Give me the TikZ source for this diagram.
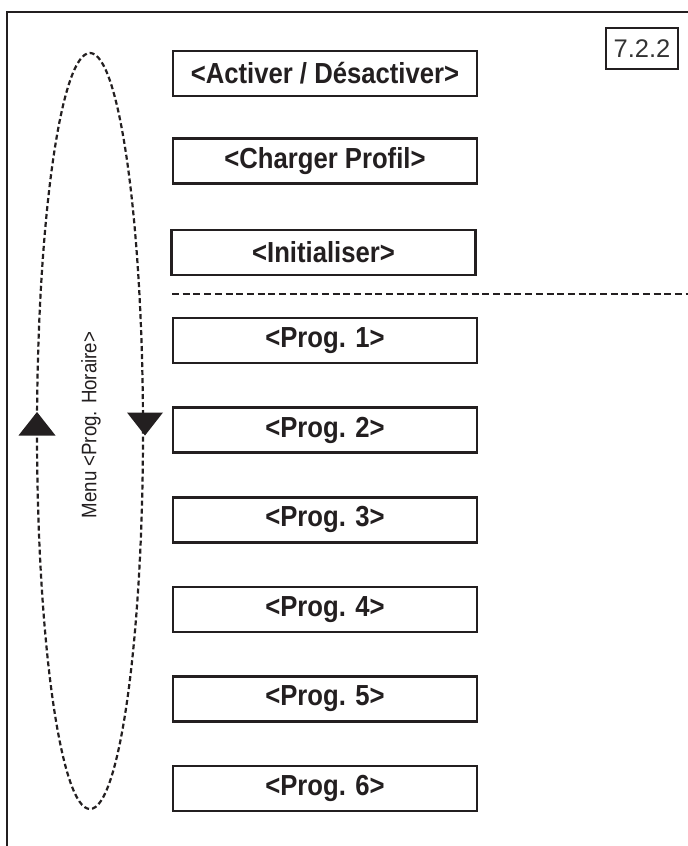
\documentclass[tikz,border=0pt]{standalone}
\usepackage{fontspec}
\usepackage{graphicx}
\setmainfont{Liberation Sans}
\definecolor{ink}{HTML}{231F20}
\newcommand{\narrowtxt}[2]{\scalebox{#1}[1]{#2}}
\begin{document}
\begin{tikzpicture}[x=1pt,y=-1pt,
  menubox/.style={draw=ink, line width=2.6pt, minimum width=304pt, minimum height=45pt, inner sep=0pt,
    text=ink, font=\fontsize{29}{32}\selectfont\bfseries},
  tagbox/.style={draw=ink, line width=2pt, minimum width=72pt, minimum height=41pt, inner sep=0pt,
    text=black!80, font=\fontsize{25.5}{30}\selectfont},
  loopline/.style={draw=ink, line width=2.2pt, dash pattern=on 5pt off 3pt},
  sepline/.style={draw=ink, line width=2pt, dash pattern=on 7pt off 3.7pt},
  frameline/.style={draw=ink, line width=2pt},
  tip/.style={fill=ink}
]
\useasboundingbox[fill=white] (0,0) rectangle (688,846);
% frame
\coordinate (fb) at (7,850);
\coordinate (fc) at (7,12);
\coordinate (fr) at (692,12);
\draw[frameline] (fb) -- (fc) -- (fr);
% tag
\node[tagbox] (tag) at (642,48.5) {7.2.2};
% menu boxes
\node[menubox] (act) at (325,73.5) {\narrowtxt{0.885}{<Activer / Désactiver>}};
\node[menubox] (chg) at (325,161) {\narrowtxt{0.885}{<Charger Profil>}};
\node[menubox] (ini) at (323.5,252.5) {\narrowtxt{0.885}{<Initialiser>}};
\node[menubox] (p1) at (325,340.5) {\narrowtxt{0.885}{<Prog. 1>}};
\node[menubox] (p2) at (325,430.1) {\narrowtxt{0.885}{<Prog. 2>}};
\node[menubox] (p3) at (325,519.7) {\narrowtxt{0.885}{<Prog. 3>}};
\node[menubox] (p4) at (325,609.3) {\narrowtxt{0.885}{<Prog. 4>}};
\node[menubox] (p5) at (325,698.9) {\narrowtxt{0.885}{<Prog. 5>}};
\node[menubox] (p6) at (325,788.5) {\narrowtxt{0.885}{<Prog. 6>}};
% separator
\coordinate (sl) at (172,294);
\coordinate (sr) at (690,294);
\draw[sepline] (sl) -- (sr);
% loop
\draw[loopline] (90,431) ellipse [x radius=53pt, y radius=378pt];
\fill[tip] (37,412) -- (55.5,435.5) -- (18.5,435.5) -- cycle;
\fill[tip] (145,435.5) -- (127,412.5) -- (163,412.5) -- cycle;
\node[rotate=90, text=ink, font=\fontsize{21}{24}\selectfont, inner sep=0pt] (menu) at (91,425) {\narrowtxt{0.89}{Menu <Prog. Horaire>}};
\end{tikzpicture}
\end{document}
